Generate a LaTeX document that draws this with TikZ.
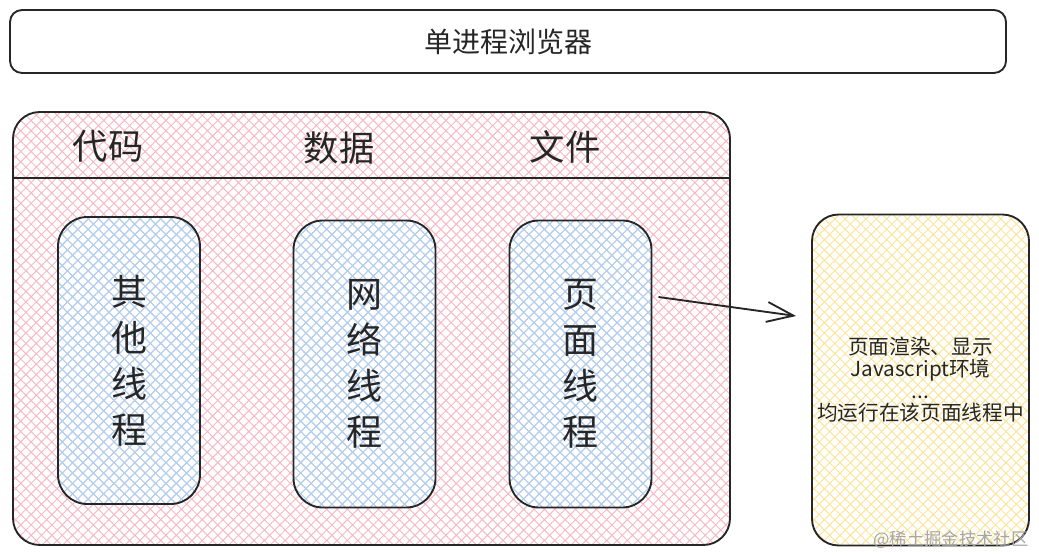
\documentclass[tikz,border=0pt]{standalone}
\usepackage{fontspec}
\setmainfont{Noto Sans CJK SC}
\usetikzlibrary{arrows.meta, patterns.meta, positioning}
\definecolor{hpink}{HTML}{F6B9C5}
\definecolor{hblue}{HTML}{A9D3F5}
\definecolor{hyellow}{HTML}{FBE59A}

\begin{document}
\begin{tikzpicture}[x=0.75pt, y=-0.75pt,
    outline/.style={draw=black!85, line width=1.4pt, rounded corners=#1, inner sep=0pt},
    hatch/.style={pattern={Hatch[angle=45, distance=5.5pt, line width=0.75pt]}, pattern color=#1},
    thread/.style={outline=22pt, hatch=hblue, minimum width=106.5pt, minimum height=215.25pt,
        align=center, font=\fontsize{27}{34.5}\selectfont, text=black!85},
    label/.style={font=\fontsize{26.5}{30}\selectfont, text=black!85},
    arrow/.style={-{Straight Barb[length=20pt, width=15pt, line width=1.4pt]}, line width=1.4pt, draw=black!85}
]
\useasboundingbox (0,0) rectangle (1039,556);
\node[outline=9pt, minimum width=747pt, minimum height=47.25pt, font=\fontsize{21}{24}\selectfont, text=black!85]
    (browser) at (508,41.5) {单进程浏览器};
\node[outline=20pt, hatch=hpink, minimum width=537.75pt, minimum height=324.75pt] (process) at (371.5,328.5) {};
\draw[line width=1.4pt, draw=black!85] (process.west |- 0,178) -- (process.east |- 0,178);
\node[label] (code) at (108,146) {代码};
\node[label] (data) at (339,148) {数据};
\node[label] (file) at (565,147) {文件};
\node[thread] (other) at (129,360.5) {其\\他\\线\\程};
\node[thread] (net) at (364.5,364) {网\\络\\线\\程};
\node[thread] (page) at (580.5,364) {页\\面\\线\\程};
\node[outline=20pt, hatch=hyellow, minimum width=162.75pt, minimum height=248.25pt, align=center,
    font=\fontsize{15.5}{16.5}\selectfont, text=black!85] (render) at (920.5,380)
    {页面渲染、显示\\Javascript环境\\...\\均运行在该页面线程中};
\draw[arrow] ([shift={(6,-67)}]page.east) -- ([shift={(-15,-64)}]render.west);
\node[font=\fontsize{13}{15}\selectfont, text=black!35] (mark) at (951,540) {@稀土掘金技术社区};
\end{tikzpicture}
\end{document}
